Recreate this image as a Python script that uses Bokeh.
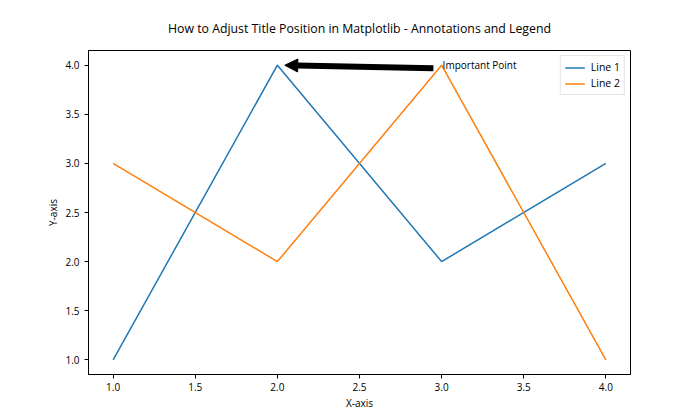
from bokeh.plotting import figure
from bokeh.models import FixedTicker, Arrow, NormalHead, Label, Legend, LegendItem, NumeralTickFormatter
from bokeh.embed import file_html
from bokeh.resources import INLINE

# data
x = [1, 2, 3, 4]
line1 = [1, 4, 2, 3]
line2 = [3, 2, 4, 1]
series_names = ["Line 1", "Line 2"]
ticks = [1.0, 1.5, 2.0, 2.5, 3.0, 3.5, 4.0]
annot_text = "Important Point"
annot_xy = (2, 4)
annot_text_xy = (3, 4)
title_text = "How to Adjust Title Position in Matplotlib - Annotations and Legend"

FONT = "Open Sans"
BLUE = "#1f77b4"
ORANGE = "#ff7f0e"

p = figure(width=700, height=420, output_backend="svg", toolbar_location=None,
           x_range=(0.85, 4.15), y_range=(0.85, 4.15),
           min_border_left=88, min_border_right=70, min_border_top=50, min_border_bottom=46,
           title=title_text)
p.title.text_font = FONT
p.title.text_font_size = "12.3px"
p.title.text_font_style = "normal"
p.title.align = "center"
p.title.text_color = "black"
p.title.standoff = 28

p.xgrid.visible = False
p.ygrid.visible = False
p.outline_line_color = "black"
p.outline_line_width = 1
p.background_fill_color = "white"
p.border_fill_color = "white"

for ax in (p.xaxis[0], p.yaxis[0]):
    ax.ticker = FixedTicker(ticks=ticks)
    ax.formatter = NumeralTickFormatter(format="0.0")
    ax.major_tick_out = 4
    ax.major_tick_in = 0
    ax.minor_tick_line_color = None
    ax.axis_line_color = "black"
    ax.axis_line_width = 1
    ax.major_tick_line_color = "black"
    ax.major_tick_line_width = 1
    ax.major_label_text_font = FONT
    ax.major_label_text_font_size = "10px"
    ax.major_label_text_color = "black"
    ax.axis_label_text_font = FONT
    ax.axis_label_text_font_size = "10px"
    ax.axis_label_text_font_style = "normal"
    ax.axis_label_text_color = "black"

p.xaxis.major_label_standoff = 4
p.xaxis.axis_label_standoff = 2
p.yaxis.major_label_standoff = 5
p.yaxis.axis_label_standoff = 2

p.xaxis.axis_label = "X-axis"
p.yaxis.axis_label = "Y-axis"

r1 = p.line(x, line1, line_color=BLUE, line_width=1.5)
r2 = p.line(x, line2, line_color=ORANGE, line_width=1.5)

# annotation
head = NormalHead(size=13, fill_color="black", line_color="black")
p.add_layout(Arrow(end=head, x_start=annot_text_xy[0] - 0.05, y_start=annot_text_xy[1] - 0.03,
                   x_end=annot_xy[0] + 0.045, y_end=annot_xy[1],
                   line_color="black", line_width=6))
p.add_layout(Label(x=annot_text_xy[0], y=annot_text_xy[1], text=annot_text,
                   text_font=FONT, text_font_size="10px", text_color="black",
                   text_baseline="alphabetic", text_align="left", x_offset=1))

legend = Legend(items=[LegendItem(label=series_names[0], renderers=[r1]),
                       LegendItem(label=series_names[1], renderers=[r2])],
                location="top_right", margin=5, padding=4, spacing=2,
                label_text_font=FONT, label_text_font_size="10.5px", label_text_color="black",
                glyph_width=20, glyph_height=13, label_standoff=6,
                border_line_color="#cccccc", border_line_width=1,
                background_fill_alpha=0.8)
p.add_layout(legend)

open("out.html", "w").write(file_html(p, INLINE))
